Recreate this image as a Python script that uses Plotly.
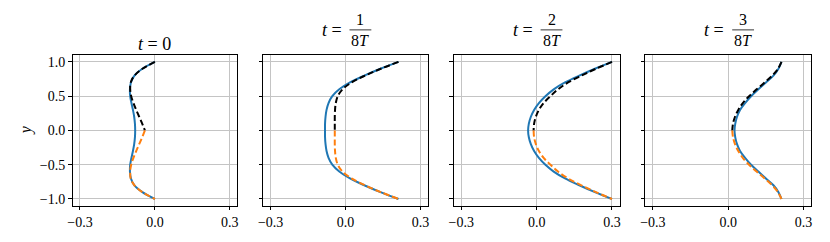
import plotly.graph_objects as go

# ---------------- data ----------------
y_full = [1.0, 0.9, 0.8, 0.7, 0.6, 0.5, 0.4, 0.3, 0.2, 0.1, 0.0,
          -0.1, -0.2, -0.3, -0.4, -0.5, -0.6, -0.7, -0.8, -0.9, -1.0]
y_top = [1.0, 0.9, 0.8, 0.7, 0.6, 0.5, 0.4, 0.3, 0.2, 0.1, 0.0]
y_bot = [0.0, -0.1, -0.2, -0.3, -0.4, -0.5, -0.6, -0.7, -0.8, -0.9, -1.0]

# solid blue curves (full span)
blue_0 = [0.0, -0.050, -0.082, -0.096, -0.100, -0.099, -0.094, -0.088, -0.083, -0.080, -0.079,
          -0.080, -0.083, -0.088, -0.094, -0.099, -0.100, -0.096, -0.082, -0.050, 0.0]
blue_1 = [0.212, 0.140, 0.075, 0.018, -0.025, -0.053, -0.068, -0.076, -0.080, -0.082, -0.082,
          -0.082, -0.080, -0.076, -0.068, -0.053, -0.025, 0.018, 0.075, 0.140, 0.212]
blue_2 = [0.300, 0.232, 0.170, 0.113, 0.068, 0.035, 0.009, -0.010, -0.023, -0.031, -0.034,
          -0.031, -0.023, -0.010, 0.009, 0.035, 0.068, 0.113, 0.170, 0.232, 0.300]
blue_3 = [0.212, 0.200, 0.180, 0.150, 0.120, 0.091, 0.067, 0.047, 0.035, 0.028, 0.025,
          0.028, 0.035, 0.047, 0.067, 0.091, 0.120, 0.150, 0.180, 0.200, 0.212]

# black dashed curves (upper half)
black_0 = [0.0, -0.050, -0.082, -0.097, -0.099, -0.095, -0.086, -0.075, -0.063, -0.051, -0.040]
black_1 = [0.212, 0.141, 0.078, 0.024, -0.012, -0.031, -0.039, -0.042, -0.043, -0.043, -0.043]
black_2 = [0.300, 0.236, 0.178, 0.125, 0.085, 0.055, 0.028, 0.009, -0.003, -0.010, -0.012]
black_3 = [0.212, 0.198, 0.175, 0.145, 0.113, 0.083, 0.058, 0.040, 0.027, 0.019, 0.016]

# orange dashed curves (lower half)
orange_0 = [-0.040, -0.051, -0.063, -0.075, -0.086, -0.095, -0.099, -0.097, -0.082, -0.050, 0.0]
orange_1 = [-0.043, -0.043, -0.043, -0.042, -0.039, -0.031, -0.012, 0.024, 0.078, 0.141, 0.212]
orange_2 = [-0.012, -0.010, -0.003, 0.009, 0.028, 0.055, 0.085, 0.125, 0.178, 0.236, 0.300]
orange_3 = [0.016, 0.019, 0.027, 0.040, 0.058, 0.083, 0.113, 0.145, 0.175, 0.198, 0.212]

x_ticks = [-0.3, 0.0, 0.3]
x_ticklabels = ["\u22120.3", "0.0", "0.3"]
y_ticks = [-1.0, -0.5, 0.0, 0.5, 1.0]
y_ticklabels = ["\u22121.0", "\u22120.5", "0.0", "0.5", "1.0"]
numerators = [None, "1", "2", "3"]

# ---------------- figure ----------------
W, H = 830, 242
FONT = "'Liberation Serif', 'DejaVu Serif', serif"
BLUE, ORANGE = "#1f77b4", "#ff7f0e"

blues = [blue_0, blue_1, blue_2, blue_3]
blacks = [black_0, black_1, black_2, black_3]
oranges = [orange_0, orange_1, orange_2, orange_3]

panels_px = [(68, 234), (260, 426), (452, 619), (645, 812)]
top_px, bot_px = 55.3, 206.7

fig = go.Figure()
layout = dict(
    width=W, height=H,
    margin=dict(l=0, r=0, t=0, b=0),
    paper_bgcolor="white", plot_bgcolor="white",
    showlegend=False,
    font=dict(family=FONT, size=14, color="black"),
)

annotations = []
shapes = []
for i in range(4):
    sfx = "" if i == 0 else str(i + 1)
    xa, ya = "x" + sfx, "y" + sfx
    x0, x1 = panels_px[i]
    common = dict(
        showgrid=True, gridcolor="#c4c4c4", gridwidth=1,
        zeroline=False, showline=True, linecolor="black", linewidth=1,
        mirror=True, ticks="outside", ticklen=3.5, tickwidth=0.8, tickcolor="black",
        tickfont=dict(family=FONT, size=14, color="black"),
    )
    layout["xaxis" + sfx] = dict(
        common, domain=[x0 / W, x1 / W], range=[-0.33, 0.33],
        tickvals=x_ticks, ticktext=x_ticklabels, anchor=ya,
    )
    layout["yaxis" + sfx] = dict(
        common, domain=[1 - bot_px / H, 1 - top_px / H], range=[-1.1, 1.1],
        tickvals=y_ticks, ticktext=y_ticklabels if i == 0 else [""] * 5,
        anchor=xa,
    )
    fig.add_trace(go.Scatter(x=blues[i], y=y_full, mode="lines", xaxis=xa, yaxis=ya,
                             line=dict(color=BLUE, width=2, shape="spline", smoothing=1)))
    fig.add_trace(go.Scatter(x=blacks[i], y=y_top, mode="lines", xaxis=xa, yaxis=ya,
                             line=dict(color="black", width=2, dash="6px,3px",
                                       shape="spline", smoothing=1)))
    fig.add_trace(go.Scatter(x=oranges[i], y=y_bot, mode="lines", xaxis=xa, yaxis=ya,
                             line=dict(color=ORANGE, width=2, dash="6px,3px",
                                       shape="spline", smoothing=1)))

    cx = (x0 + x1) / 2
    if numerators[i] is None:
        annotations.append(dict(text="<i>t</i> = 0", x=cx / W, y=1 - 44 / H,
                                xref="paper", yref="paper", showarrow=False,
                                xanchor="center", yanchor="middle",
                                font=dict(family=FONT, size=18)))
    else:
        annotations.append(dict(text="<i>t</i> =", x=(cx - 14) / W, y=1 - 30 / H,
                                xref="paper", yref="paper", showarrow=False,
                                xanchor="center", yanchor="middle",
                                font=dict(family=FONT, size=18)))
        annotations.append(dict(text=numerators[i], x=(cx + 15) / W, y=1 - 20 / H,
                                xref="paper", yref="paper", showarrow=False,
                                xanchor="center", yanchor="middle",
                                font=dict(family=FONT, size=16)))
        annotations.append(dict(text="8<i>T</i>", x=(cx + 15) / W, y=1 - 41 / H,
                                xref="paper", yref="paper", showarrow=False,
                                xanchor="center", yanchor="middle",
                                font=dict(family=FONT, size=16)))
        shapes.append(dict(type="line", xref="paper", yref="paper",
                           x0=(cx + 4) / W, x1=(cx + 26) / W,
                           y0=1 - 30 / H, y1=1 - 30 / H,
                           line=dict(color="black", width=0.8)))

annotations.append(dict(text="<i>y</i>", x=22 / W, y=1 - 131 / H,
                        xref="paper", yref="paper", showarrow=False,
                        xanchor="center", yanchor="middle", textangle=-90,
                        font=dict(family=FONT, size=16)))
layout["annotations"] = annotations
layout["shapes"] = shapes
fig.update_layout(**layout)
fig.write_html(
    "out.html",
    config={"displayModeBar": False},
    post_script="document.body.style.margin='0px';document.body.style.overflow='hidden';",
)
